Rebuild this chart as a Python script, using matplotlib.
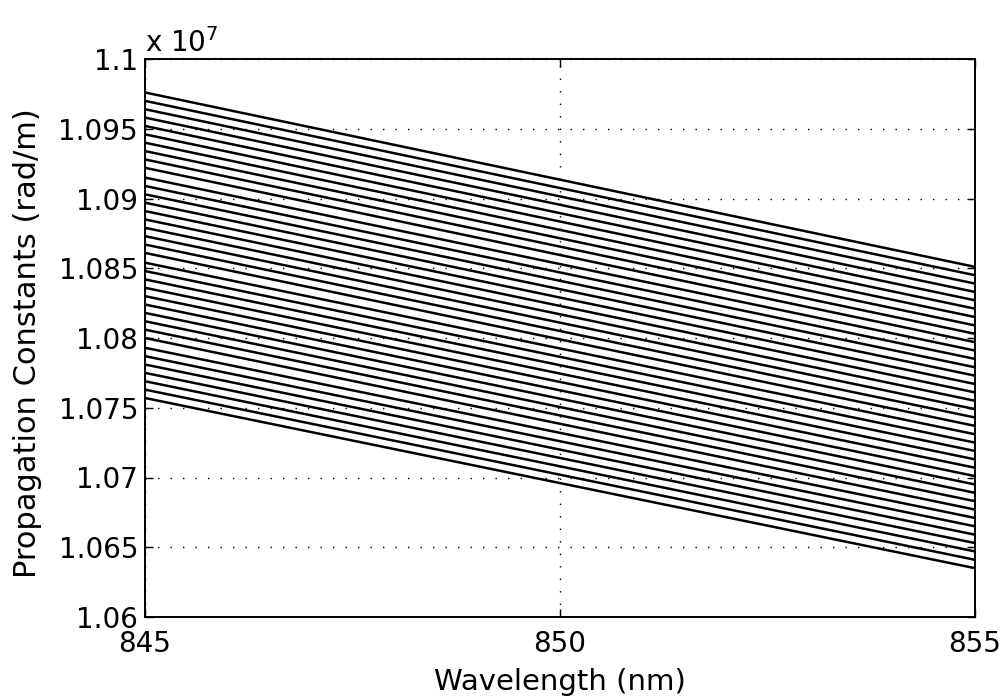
import matplotlib
matplotlib.use("Agg")
import matplotlib.pyplot as plt
from matplotlib.ticker import FuncFormatter, MultipleLocator

wavelength_nm = [845, 855]

beta_start_1e7 = [1.0976, 1.0970, 1.0964, 1.0958, 1.0952, 1.0946, 1.0940, 1.0934,
                  1.0928, 1.0922, 1.0915, 1.0909, 1.0903, 1.0897, 1.0891, 1.0885,
                  1.0879, 1.0873, 1.0867, 1.0861, 1.0854, 1.0848, 1.0842, 1.0836,
                  1.0830, 1.0824, 1.0818, 1.0812, 1.0806, 1.0800, 1.0793, 1.0787,
                  1.0781, 1.0775, 1.0769, 1.0763, 1.0757]
beta_end_1e7 = [1.0851, 1.0845, 1.0839, 1.0833, 1.0827, 1.0821, 1.0815, 1.0809,
                1.0803, 1.0797, 1.0791, 1.0785, 1.0779, 1.0773, 1.0767, 1.0761,
                1.0755, 1.0749, 1.0743, 1.0737, 1.0731, 1.0725, 1.0719, 1.0713,
                1.0707, 1.0701, 1.0695, 1.0689, 1.0683, 1.0677, 1.0671, 1.0665,
                1.0659, 1.0653, 1.0647, 1.0641, 1.0635]

plt.rcParams['font.family'] = ['DejaVu Sans']

fig = plt.figure(figsize=(10.02, 7.0), dpi=100)
ax = fig.add_axes([145/1002, 1-617/700, (975-145)/1002, (617-59)/700])

for b0, b1 in zip(beta_start_1e7, beta_end_1e7):
    ax.plot(wavelength_nm, [b0*1e7, b1*1e7], color='black', lw=1.8)

ax.set_xlim(845, 855)
ax.set_ylim(1.06e7, 1.1e7)
ax.set_xticks([845, 850, 855])
ax.yaxis.set_major_locator(MultipleLocator(0.005e7))
ax.yaxis.set_major_formatter(FuncFormatter(lambda v, p: '%g' % round(v/1e7, 4)))
ax.tick_params(direction='in', labelsize=20, length=6, width=1, top=True, right=True)
ax.tick_params(axis='x', pad=9)
ax.tick_params(axis='y', pad=5)
ax.grid(True, linestyle=(0, (1, 8)), color='black', lw=1.0)
for s in ax.spines.values():
    s.set_linewidth(1.4)

ax.set_xlabel('Wavelength (nm)', fontsize=21)
ax.xaxis.set_label_coords(0.5, -0.092)
ax.set_ylabel('Propagation Constants (rad/m)', fontsize=22)
ax.yaxis.set_label_coords(-0.124, 0.49)
ax.text(0.0, 1.0125, r'x 10$^7$', transform=ax.transAxes, fontsize=20, ha='left', va='baseline')

fig.savefig('out.png', dpi=100)
